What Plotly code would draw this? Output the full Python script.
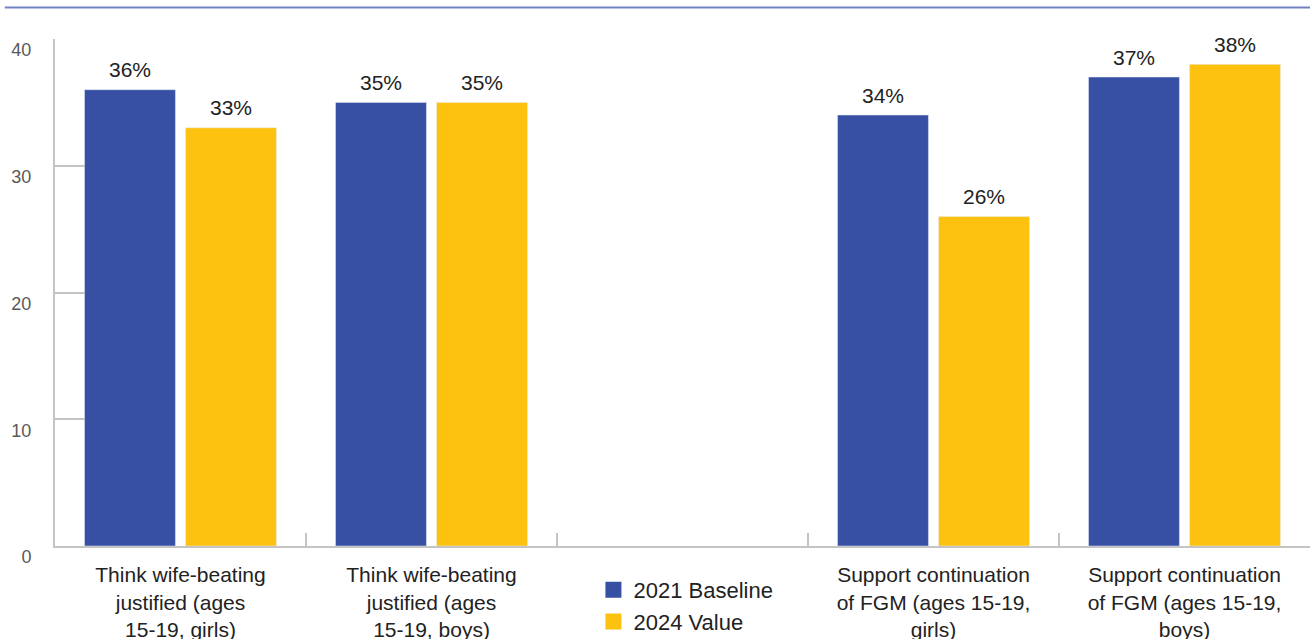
import plotly.graph_objects as go

categories = [
    "Think wife-beating<br>justified (ages<br>15-19, girls)",
    "Think wife-beating<br>justified (ages<br>15-19, boys)",
    " ",
    "Support continuation<br>of FGM (ages 15-19,<br>girls)",
    "Support continuation<br>of FGM (ages 15-19,<br>boys)",
]
baseline_2021 = [36, 35, None, 34, 37]
value_2024 = [33, 35, None, 26, 38]
series_names = ["2021 Baseline", "2024 Value"]
y_ticks = [0, 10, 20, 30, 40]

BLUE = "#3750a3"
YELLOW = "#fdc210"
FONT = "Liberation Sans"
W, H = 1310, 639
ML, MR, MT, MB = 55, 0, 39, 93
BARGAP = 0.195
GROUPGAP = 0.1

fig = go.Figure()
series = [(series_names[0], baseline_2021, BLUE, "a"),
          (series_names[1], value_2024, YELLOW, "b")]
for name, vals, color, grp in series:
    fig.add_trace(go.Bar(
        x=categories, y=vals, name=name, marker_color=color,
        showlegend=False, legendgroup=grp,
    ))
    # legend-only entry with larger square swatch
    fig.add_trace(go.Scatter(
        x=[None], y=[None], mode="markers", name=name,
        marker=dict(symbol="square", size=17, color=color),
        legendgroup=grp, showlegend=True,
    ))

# value labels, placed over each bar through the category axis
cat_px = (W - ML - MR) / len(categories)
slot_px = cat_px * (1 - BARGAP) / len(series)
annotations = []
for i, (name, vals, color, grp) in enumerate(series):
    shift = (i - (len(series) - 1) / 2) * slot_px
    for c, v in zip(categories, vals):
        if v is None:
            continue
        annotations.append(dict(
            x=c, y=v, xref="x", yref="y", text=f"{v}%", showarrow=False,
            xanchor="center", yanchor="middle", xshift=shift, yshift=20,
            font=dict(size=21, color="#222222", family=FONT),
        ))

fig.update_layout(
    width=W, height=H,
    margin=dict(l=ML, r=MR, t=MT, b=MB, autoexpand=False),
    plot_bgcolor="white", paper_bgcolor="white",
    barmode="group", bargap=BARGAP, bargroupgap=GROUPGAP,
    font=dict(family=FONT, color="#222222"),
    showlegend=True,
    legend=dict(
        xref="container", yref="container",
        x=0.453, y=0.1095, xanchor="left", yanchor="top",
        font=dict(size=22, color="#222222", family=FONT),
        traceorder="grouped", tracegroupgap=0,
        bgcolor="rgba(0,0,0,0)",
    ),
    annotations=annotations,
    shapes=[dict(
        type="line", xref="paper", yref="paper",
        x0=-0.04, x1=1, y0=1.062, y1=1.062,
        line=dict(color="#7081c2", width=2),
    )],
)
fig.update_xaxes(
    type="category", showline=True, linecolor="#c4c4c4", linewidth=2,
    ticks="inside", tickson="boundaries", ticklen=13, tickcolor="#c4c4c4",
    tickwidth=1.5, showgrid=False, automargin=False,
    tickfont=dict(size=21, color="#222222", family=FONT),
    ticklabelstandoff=9,
)
fig.update_yaxes(
    range=[0, 40], tickvals=y_ticks, showline=True, linecolor="#c4c4c4",
    linewidth=2, ticks="inside", ticklen=30, tickcolor="#c4c4c4", tickwidth=1.5,
    showgrid=False, zeroline=False, layer="below traces", automargin=False,
    tickfont=dict(size=18, color="#595959", family=FONT),
    ticklabelshift=11, ticklabelstandoff=18,
)

fig.write_html("out.html")
